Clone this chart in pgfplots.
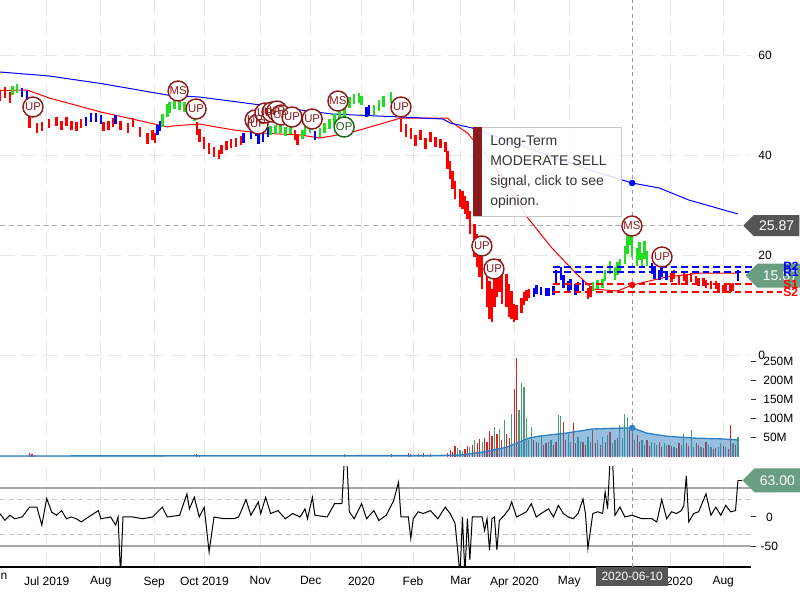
\documentclass[border=0pt]{standalone}
\usepackage{fontspec}
\setmainfont{Liberation Sans}
\usepackage{pgfplots}
\pgfplotsset{compat=1.18}
\usepackage{pgfplotstable}
\usetikzlibrary{shapes.symbols}

\definecolor{upred}{HTML}{8B1A1A}
\definecolor{opgreen}{HTML}{1E5E1E}
\definecolor{pgreen}{HTML}{22DD22}
\definecolor{vred}{HTML}{DD2222}
\definecolor{vgreen}{HTML}{4A9A78}
\definecolor{varea}{HTML}{2F7FC1}
\definecolor{gridc}{HTML}{E8E8E8}
\definecolor{lblgreen}{HTML}{6A9E80}
\definecolor{lbldark}{HTML}{555555}

% price bars: trading day index, close, half range
\pgfplotstableread{
i c e
-19 51.8 1.0
-17 52.6 1.1
-15 51.5 1.1
-7 46.6 1.2
-4 45.4 1.0
-2 45.7 0.9
1 46.4 0.9
4 46.7 0.9
6 46.0 0.9
8 46.7 0.9
10 46.0 0.9
12 45.7 0.9
14 46.3 0.9
23 45.8 0.9
25 46.0 0.9
27 46.5 0.9
30 46.0 0.9
33 45.4 1.0
35 46.6 0.9
38 44.6 1.0
41 43.4 1.1
43 44.0 1.0
44 43.4 1.0
61 45.4 1.3
62 44.0 1.3
64 42.4 1.2
66 41.4 1.1
68 40.6 1.0
70 40.2 0.9
71 41.2 0.9
73 42.0 0.9
75 42.4 0.9
77 42.6 0.9
79 43.0 0.9
101 44.0 1.0
102 43.2 1.1
144 46.0 1.3
146 45.0 1.3
148 44.4 1.1
150 43.0 1.1
152 44.0 1.0
154 42.4 1.1
156 43.6 1.0
158 42.6 1.0
160 42.4 0.9
162 41.6 1.0
163 39.0 1.8
164 37.0 1.8
165 35.0 1.8
166 33.0 1.8
168 31.4 1.8
169 31.0 1.8
170 30.0 1.8
171 29.0 1.8
172 26.6 2.3
174 23.0 3.3
175 21.0 3.3
176 19.0 3.3
177 17.0 3.8
179 14.0 4.3
180 11.0 3.8
181 10.0 3.3
182 13.0 3.3
183 15.0 3.3
184 16.0 3.3
185 14.0 3.8
187 13.0 3.3
188 11.0 3.3
189 10.0 2.8
190 8.5 1.8
191 8.6 1.5
193 10.0 1.5
194 11.4 1.3
195 12.0 1.1
196 12.4 0.9
220 12.4 1.1
221 12.8 1.1
254 15.6 0.9
255 16.2 0.9
257 15.0 0.9
259 15.8 0.9
260 15.2 0.9
262 15.6 0.9
264 15.0 0.8
265 14.6 0.8
267 14.6 0.8
268 14.2 0.8
270 14.0 0.8
272 14.0 0.8
273 13.6 0.8
275 13.2 0.8
276 13.4 0.8
278 13.4 0.8
279 13.6 0.8
}\pred

\pgfplotstableread{
i c e
-14 53.0 0.9
-12 53.4 0.9
47 47.0 1.3
49 49.0 1.3
50 49.6 1.1
52 50.4 1.1
54 50.0 1.0
56 49.6 1.0
58 49.2 1.0
60 48.0 1.1
91 45.0 0.9
93 45.2 0.9
95 45.4 0.9
97 44.8 0.9
99 45.2 0.9
104 44.2 0.9
105 45.0 0.9
107 45.4 0.9
111 44.6 0.9
113 45.4 1.0
115 46.2 1.0
117 47.2 1.1
119 48.0 1.1
121 48.6 1.1
123 50.6 1.1
125 51.2 1.0
127 51.4 1.0
128 51.0 0.9
133 49.0 1.0
135 50.0 1.1
137 50.8 1.1
140 51.6 1.1
222 13.8 0.9
224 14.2 0.9
226 14.4 0.9
227 16.0 1.1
229 17.6 1.3
231 16.4 1.3
232 17.4 1.3
233 18.0 1.3
235 20.0 1.8
236 22.6 2.3
237 24.4 2.3
238 22.0 2.3
240 19.6 1.8
241 20.8 1.8
242 19.0 1.5
243 21.0 1.8
244 19.4 1.5
}\pgreenbars

\pgfplotstableread{
i c e
-10 52.6 0.9
-8 52.0 0.9
16 46.8 0.9
18 47.5 0.9
20 47.6 0.9
22 47.2 0.9
28 47.2 0.9
45 45.0 1.0
46 45.8 1.0
80 43.4 1.0
83 44.4 1.1
85 45.0 1.1
86 43.4 1.1
88 43.6 1.0
90 44.6 1.0
109 44.0 0.9
130 48.6 1.0
131 49.0 1.0
198 12.6 0.9
199 13.2 0.9
201 12.8 0.8
203 12.6 0.8
204 12.6 0.8
206 13.0 0.9
207 15.5 1.5
209 16.4 1.3
210 14.8 1.3
212 13.8 1.1
213 14.2 1.1
215 13.2 1.1
216 13.6 1.1
218 14.0 1.1
246 17.4 1.1
247 16.4 1.1
249 16.0 1.0
250 16.6 1.0
252 16.0 0.9
281 15.87 1.1
}\pblue

% moving averages
\pgfplotstableread{
i v
-19 56.6
1 55.8
22 54.3
49 52.0
62 51.6
87 50.0
103 49.0
116 48.2
130 47.9
144 47.6
161 47.2
164 46.4
173 45.4
198 41.0
217 37.6
238 34.4
249 33.4
261 31.0
281 28.2
}\mablue

\pgfplotstableread{
i v
-19 52.9
-8 53.0
1 51.4
22 48.6
42 46.4
49 45.6
51 45.8
62 46.2
76 45.0
87 44.4
103 44.0
111 43.4
123 44.4
144 47.4
163 47.4
165 46.4
171 44.4
177 41.0
184 36.4
190 32.4
194 28.4
205 21.6
215 16.4
222 13.2
232 12.8
238 14.0
252 15.6
266 16.4
281 16.4
}\mared

% signals
\pgfplotstableread{
i p
-5.6 49.6
60.7 49.2
84.7 47.0
85.9 46.2
88.7 48.4
91.6 48.6
93.6 48.8
95.3 48.0
99.7 47.6
107.9 47.2
144.0 49.6
176.9 21.8
181.8 17.2
250.1 19.6
}\sigup

\pgfplotstableread{
i p
53.4 52.8
118.4 50.8
237.9 25.8
}\sigms

% volume in millions
\pgfplotstableread{
i v
-7 9
-6 6
-5 4
61 7
62 5
140 6
147 10
148 7
151 6
153 9
156 6
163 10
164 18
165 12
166 28
170 20
171 28
173 31
175 35
176 46
178 50
179 40
180 68
181 55
183 61
185 45
187 60
188 48
190 177
191 261
198 44
199 40
202 30
203 35
206 32
207 39
210 92
211 45
214 88
215 35
218 39
219 30
222 70
223 35
225 30
227 40
229 66
232 48
237 70
238 61
240 57
241 38
244 44
245 28
249 39
250 25
253 31
254 28
256 22
257 35
260 35
261 28
264 35
265 30
267 22
268 39
271 20
272 22
275 28
277 20
278 83
280 30
}\volred

\pgfplotstableread{
i v
121 8
167 22
168 19
169 15
172 25
174 44
177 38
182 77
184 72
186 96
189 112
192 123
193 193
194 184
195 101
196 44
197 77
200 35
201 57
204 38
205 44
208 110
209 107
212 61
213 40
216 53
217 42
220 53
221 38
224 44
226 53
228 57
230 35
231 44
233 83
234 50
235 112
236 105
239 45
242 44
243 30
246 39
247 35
248 30
251 35
252 30
255 26
258 30
259 59
262 70
263 25
266 26
269 30
270 26
273 25
274 35
276 26
279 35
281 51
}\volgreen

\pgfplotstableread{
i v
-19 2
156 3
168 4.5
177 12
187 25
191 36
196 49
200 54
211 62
222 73
232 75
238 76
244 62
252 54
263 49
274 47
281 44
}\volma

% oscillator
\pgfplotstableread{
i v
-19 5.7
-17 -5.7
-15 3
-13 -3
-10 0
-7 17
-4 17
-2 -14
0 32
2 8.5
4 3
6 11
8 -3
10 0
12 -3
14 -8.5
17 0
21 11
22 -3
26 0
28 -14
29 0
30 -100
31 0
35 0
39 -3
43 0
47 17
49 0
54 3
57 40
58 14
60 34
62 0
64 17
66 -60
68 0
72 -3
76 -3
78 0
81 30
83 3
86 26
87 6
89 34
91 6
94 11
97 -3
100 6
103 0
105 14
106 -3
108 34
109 3
114 0
117 23
120 23
121 100
122 100
123 9
125 -3
128 23
130 -3
133 11
135 -6
138 3
141 28
143 60
144 0
147 0
148 -37
149 -3
151 9
153 6
156 11
159 -3
162 17
164 6
166 -11
168 -100
169 0
170 -100
171 -3
172 -74
173 0
177 0
178 -23
179 -3
180 -57
181 -3
182 0
183 -57
184 -6
186 3
188 14
189 26
191 0
195 9
197 23
199 0
201 6
204 14
206 0
208 20
210 6
212 0
214 -3
216 6
218 31
219 6
220 -54
222 6
224 9
226 6
227 43
228 14
229 100
230 100
231 3
233 17
235 0
238 3
242 -3
246 -3
248 -8.5
250 30
252 -3
254 9
256 6
258 11
259 20
260 71
261 -8.5
263 6
265 9
268 40
270 3
272 17
274 3
276 20
278 9
280 11
281 63
}\osc

\begin{document}
\begin{tikzpicture}[font=\fontsize{9}{10.8}\selectfont]
\pgfplotsset{
  panel/.style={
    scale only axis, width=563.25pt,
    xmin=-19, xmax=286.3,
    xtick={0,22,43.7,64.1,86.8,107.3,127.9,148.9,168.3,190.1,212.4,253.4,275},
    xmajorgrids,
    grid style={gridc, line width=0.75pt, dash pattern=on 11pt off 5pt},
    x tick style={draw=none},
    extra x ticks={238},
    extra x tick labels={},
    extra x tick style={grid=major, major grid style={black!40, line width=0.75pt, dash pattern=on 3pt off 2.5pt}},
    yticklabel pos=right,
    tick label style={font=\fontsize{9}{10.8}\selectfont, text=black},
    scaled y ticks=false,
  },
  ohlc/.style={draw=none, mark=none, error bars/y dir=both, error bars/y explicit,
    error bars/error mark=none, error bars/error mark options={draw=none, fill=none, mark size=0pt},
    error bars/error bar style={draw=#1, line width=1.9pt}},
}

% ---------------- price panel
\begin{axis}[panel, at={(0pt,0pt)}, anchor=north west, height=266.25pt,
  ymin=0, ymax=71, ytick={0,20,40,60}, yticklabels={0,20,40,60},
  ymajorgrids, axis line style={draw=none}, major tick length=0pt,
  yticklabel style={anchor=west, xshift=2pt},
  xticklabels={}, clip=false]
  \addplot[black!30, line width=0.75pt, dash pattern=on 4pt off 2.5pt] coordinates {(-19,25.87) (283,25.87)};
  \addplot[red, line width=0.75pt] table[x=i,y=v] {\mared};
  \addplot[blue, line width=0.75pt] table[x=i,y=v] {\mablue};
  \addplot[ohlc=red] table[x=i,y=c,y error=e] {\pred};
  \addplot[ohlc=pgreen] table[x=i,y=c,y error=e] {\pgreenbars};
  \addplot[ohlc=blue] table[x=i,y=c,y error=e] {\pblue};
  % support and resistance
  \addplot[blue, line width=1.1pt, dash pattern=on 5pt off 3pt] coordinates {(206,17.6) (299,17.6)};
  \addplot[blue, line width=1.1pt, dash pattern=on 5pt off 3pt] coordinates {(206,16.6) (299,16.6)};
  \addplot[red, line width=1.1pt, dash pattern=on 5pt off 3pt] coordinates {(206,14.2) (299,14.2)};
  \addplot[red, line width=1.1pt, dash pattern=on 5pt off 3pt] coordinates {(206,12.6) (299,12.6)};
  % crosshair dots
  \addplot[only marks, mark=*, mark size=2.2pt, blue] coordinates {(238,34.4)};
  \addplot[only marks, mark=*, mark size=2.2pt, red] coordinates {(238,14.0)};
  % signal markers
  \addplot[only marks, mark=*, mark size=7.5pt, mark options={draw=upred, fill=white, line width=1.1pt}] table[x=i,y=p] {\sigup};
  \addplot[only marks, mark=text, text mark={UP}, text mark as node=true,
    text mark style={font=\fontsize{8.5}{9}\selectfont, text=upred, inner sep=0pt}] table[x=i,y=p] {\sigup};
  \addplot[only marks, mark=*, mark size=7.5pt, mark options={draw=upred, fill=white, line width=1.1pt}] table[x=i,y=p] {\sigms};
  \addplot[only marks, mark=text, text mark={MS}, text mark as node=true,
    text mark style={font=\fontsize{8.5}{9}\selectfont, text=upred, inner sep=0pt}] table[x=i,y=p] {\sigms};
  \addplot[only marks, mark=*, mark size=7.5pt, mark options={draw=opgreen, fill=white, line width=1.1pt}] coordinates {(120.9,45.6)};
  \addplot[only marks, mark=text, text mark={OP}, text mark as node=true,
    text mark style={font=\fontsize{8.5}{9}\selectfont, text=opgreen, inner sep=0pt}] coordinates {(120.9,45.6)};
  \coordinate (hl) at (axis cs:283,25.87);
  \coordinate (last) at (axis cs:283.9,15.87);
  \coordinate (r2) at (axis cs:299.3,17.7);
  \coordinate (r1) at (axis cs:299.3,16.6);
  \coordinate (s1) at (axis cs:299.3,14.2);
  \coordinate (s2) at (axis cs:299.3,12.6);
\end{axis}

% ---------------- volume panel
\begin{axis}[panel, at={(0pt,-266.25pt)}, anchor=north west, height=76.3pt,
  ymin=0, ymax=267.6, ytick={50,100,150,200,250}, yticklabels={50M,100M,150M,200M,250M},
  axis line style={draw=none}, y tick style={draw=black!80, line width=0.75pt},
  tick align=outside, major tick length=3.75pt,
  yticklabel style={anchor=west, xshift=2pt},
  xticklabels={}]
  \addplot[ycomb, vred, line width=0.9pt] table[x=i,y=v] {\volred};
  \addplot[ycomb, vgreen, line width=0.9pt] table[x=i,y=v] {\volgreen};
  \addplot[draw=none, fill=varea, fill opacity=0.5] table[x=i,y=v] {\volma} \closedcycle;
  \addplot[varea, line width=1pt] table[x=i,y=v] {\volma};
  \addplot[only marks, mark=*, mark size=2.2pt, varea] coordinates {(238,76)};
\end{axis}

% ---------------- oscillator panel
\begin{axis}[panel, at={(0pt,-349.5pt)}, anchor=north west, height=75.75pt,
  ymin=-86.2, ymax=87.9, ytick={-50,0,50}, yticklabels={-50,0,50},
  axis x line*=bottom, axis y line*=right,
  x axis line style={black, line width=1.1pt}, y axis line style={draw=none},
  y tick style={draw=black!80, line width=0.75pt},
  tick align=outside, major tick length=3.75pt,
  yticklabel style={anchor=center, xshift=10pt},
  xticklabels={Jul 2019,Aug,Sep,Oct 2019,Nov,Dec,2020,Feb,Mar,Apr 2020,May,Jul 2020,Aug},
  clip mode=individual]
  \addplot[black!35, line width=1.1pt] coordinates {(-19,50) (286.3,50)};
  \addplot[black!35, line width=1.1pt] coordinates {(-19,-50) (286.3,-50)};
  \addplot[black!22, line width=0.75pt, dash pattern=on 4pt off 2.5pt] coordinates {(-19,30) (286.3,30)};
  \addplot[black!22, line width=0.75pt, dash pattern=on 4pt off 2.5pt] coordinates {(-19,-30) (286.3,-30)};
  \addplot[black, line width=0.75pt] table[x=i,y=v] {\osc};
  \coordinate (osclast) at (axis cs:281,63);
  \coordinate (osctip) at (axis cs:282.7,63);
  \coordinate (datept) at (axis cs:238,-86.2);
  \coordinate (junpt) at (axis cs:-20,-86.2);
\end{axis}

% ---------------- overlays
\draw[black, line width=0.75pt] (osclast) -- (osctip);
\node[signal, signal to=west, fill=lblgreen, text=white, anchor=west, minimum height=18pt,
  inner xsep=4pt, font=\fontsize{10.5}{12}\selectfont] at (osctip) {63.00};
\node[signal, signal to=west, fill=lbldark, text=white, anchor=west, minimum height=15.75pt,
  inner xsep=4pt, font=\fontsize{10.5}{12}\selectfont] at (hl) {25.87};
\node[signal, signal to=west, fill=lblgreen, text=white, anchor=west, minimum height=18pt,
  inner xsep=4pt, font=\fontsize{10.5}{12}\selectfont] at (last) {15.87};
\node[anchor=west, inner sep=0pt, text=blue, font=\bfseries\fontsize{9}{10}\selectfont] at (r2) {R2};
\node[anchor=west, inner sep=0pt, text=blue, font=\bfseries\fontsize{9}{10}\selectfont] at (r1) {R1};
\node[anchor=west, inner sep=0pt, text=red, font=\bfseries\fontsize{9}{10}\selectfont] at (s1) {S1};
\node[anchor=west, inner sep=0pt, text=red, font=\bfseries\fontsize{9}{10}\selectfont] at (s2) {S2};
\node[anchor=north, fill=lbldark, text=white, inner xsep=4pt, inner ysep=4pt,
  font=\fontsize{9}{10.8}\selectfont] at (datept) {2020-06-10};
\node[anchor=north, inner sep=3pt, font=\fontsize{9}{10.8}\selectfont] at (junpt) {Jun};

% tooltip
\fill[white, fill opacity=0.88] (354.75pt,-95.25pt) rectangle (465.75pt,-162pt);
\draw[black!22, line width=0.75pt] (354.75pt,-95.25pt) rectangle (465.75pt,-162pt);
\fill[upred] (354.75pt,-95.25pt) rectangle (361.5pt,-162pt);
\begin{scope}[every node/.style={anchor=base west, inner sep=0pt, text=black!80, font=\fontsize{10.5}{12}\selectfont}]
  \node at (367.5pt,-108.75pt) {Long-Term};
  \node at (367.5pt,-123.75pt) {MODERATE SELL};
  \node at (367.5pt,-138.75pt) {signal, click to see};
  \node at (367.5pt,-153.75pt) {opinion.};
\end{scope}

\pgfresetboundingbox
\path[use as bounding box] (0pt,0pt) rectangle (600pt,-450pt);
\end{tikzpicture}
\end{document}
